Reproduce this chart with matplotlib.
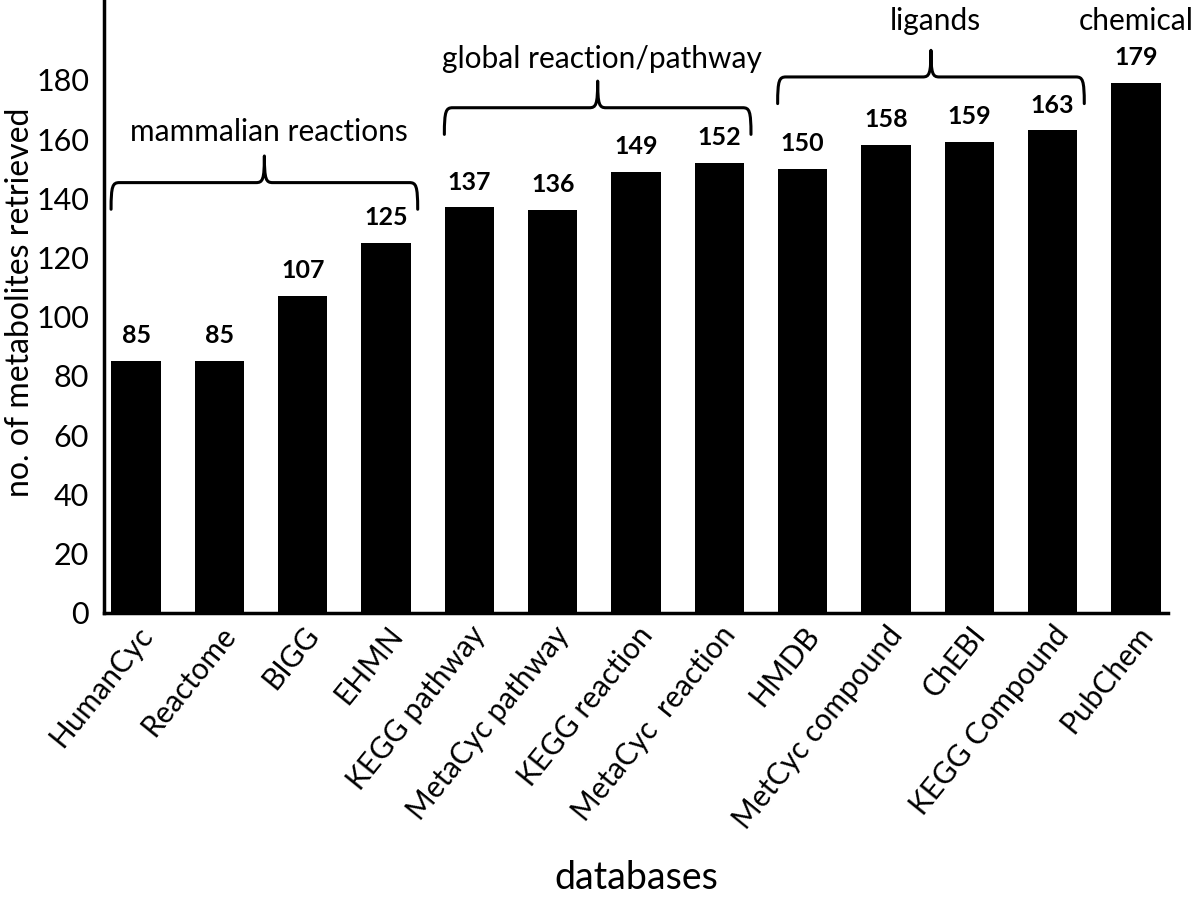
import matplotlib
matplotlib.use("Agg")
import matplotlib.pyplot as plt
from matplotlib.path import Path
from matplotlib.patches import PathPatch

plt.rcParams['font.family'] = ['Lato', 'DejaVu Sans']

# data
databases = ['HumanCyc', 'Reactome', 'BIGG', 'EHMN', 'KEGG pathway', 'MetaCyc pathway',
             'KEGG reaction', 'MetaCyc  reaction', 'HMDB', 'MetCyc compound', 'ChEBI',
             'KEGG Compound', 'PubChem']
counts = [85, 85, 107, 125, 137, 136, 149, 152, 150, 158, 159, 163, 179]

# groups: label, first bar, last bar
group_labels = ['mammalian reactions', 'global reaction/pathway', 'ligands']
group_first = [0, 4, 8]
group_last = [3, 7, 11]


def brace(ax, x0, x1, y, h_end, h_tip):
    # curly brace opening downwards; y is the horizontal stroke
    xc = (x0 + x1) / 2
    dx = 0.1
    verts = [(x0, y - h_end), (x0, y - 1), (x0 + 0.02, y), (x0 + dx, y),
             (xc - dx, y),
             (xc - 0.02, y), (xc, y + 1), (xc, y + h_tip),
             (xc, y + 1), (xc + 0.02, y), (xc + dx, y),
             (x1 - dx, y),
             (x1 - 0.02, y), (x1, y - 1), (x1, y - h_end)]
    codes = [Path.MOVETO, Path.CURVE4, Path.CURVE4, Path.CURVE4,
             Path.LINETO,
             Path.CURVE4, Path.CURVE4, Path.CURVE4,
             Path.CURVE4, Path.CURVE4, Path.CURVE4,
             Path.LINETO,
             Path.CURVE4, Path.CURVE4, Path.CURVE4]
    ax.add_patch(PathPatch(Path(verts, codes), fill=False, lw=2.2, color='black',
                           capstyle='round', joinstyle='round'))


fig = plt.figure(figsize=(12, 8.97), dpi=100)
ax = fig.add_axes([0.087, 0.317, 0.886, 0.683])

x = range(len(databases))
ax.bar(x, counts, width=0.59, color='black')

for i, v in zip(x, counts):
    ax.text(i, v + 8.5, str(v), ha='center', va='center', fontsize=18, fontweight='bold')

ax.set_xlim(-0.38, 12.38)
ax.set_ylim(0, 207)
ax.set_yticks(range(0, 181, 20))
ax.tick_params(axis='y', length=0, labelsize=22, pad=11)
ax.tick_params(axis='x', length=0, labelsize=21.5, pad=6)
ax.set_xticks(list(x))
ax.set_xticklabels(databases, rotation=51, ha='right', rotation_mode='anchor')

for s in ['top', 'right']:
    ax.spines[s].set_visible(False)
ax.spines['left'].set_linewidth(2.5)
ax.spines['bottom'].set_linewidth(2.5)

# axis titles placed on the figure so they stay inside the canvas
fig.text(20 / 1200, 1 - 302 / 897, 'no. of metabolites retrieved', rotation=90,
         ha='center', va='center', fontsize=23)
fig.text(636 / 1200, 1 - 878 / 897, 'databases', ha='center', va='center', fontsize=27)

# group braces and labels
brace_y = [145.3, 170.6, 181]
text_y = [162.5, 187, 200]
for lab, f, l, by, ty in zip(group_labels, group_first, group_last, brace_y, text_y):
    x0 = f - 0.3
    x1 = l + 0.38
    brace(ax, x0, x1, by, 9, 9)
    ax.text((x0 + x1) / 2 + 0.05, ty, lab, ha='center', va='center', fontsize=21.5)

ax.text(len(databases) - 1, 200, 'chemical', ha='center', va='center', fontsize=21.5,
        clip_on=False)

fig.savefig('out.png', dpi=100)
